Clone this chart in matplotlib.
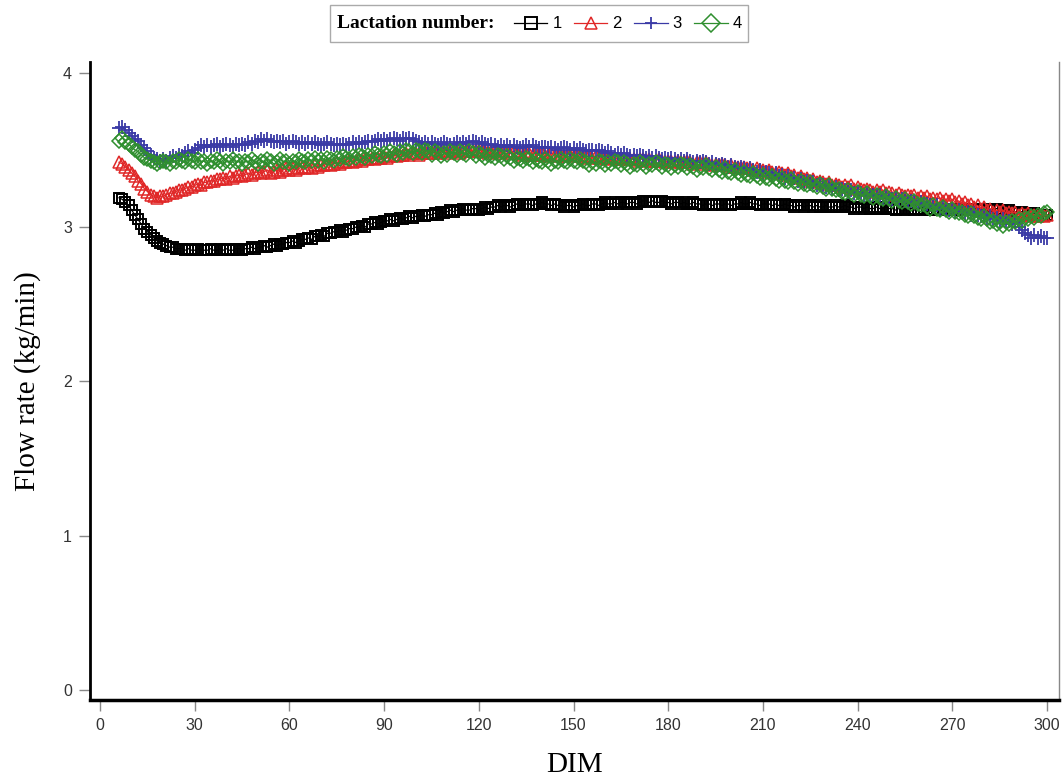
import matplotlib
matplotlib.use("Agg")
import matplotlib.pyplot as plt
from matplotlib.patches import Rectangle

# days in milk, one point per day
dim = list(range(6, 301))

lact1 = [
    3.19, 3.18, 3.16, 3.14, 3.11, 3.08, 3.05, 3.02, 2.99, 2.97,
    2.95, 2.93, 2.91, 2.90, 2.89, 2.88, 2.87, 2.87, 2.86, 2.86,
    2.86, 2.85, 2.86, 2.85, 2.85, 2.86, 2.85, 2.85, 2.85, 2.86,
    2.85, 2.85, 2.86, 2.85, 2.86, 2.85, 2.85, 2.86, 2.86, 2.85,
    2.86, 2.86, 2.87, 2.86, 2.87, 2.87, 2.88, 2.87, 2.88, 2.89,
    2.88, 2.89, 2.89, 2.90, 2.90, 2.91, 2.90, 2.91, 2.92, 2.92,
    2.93, 2.92, 2.94, 2.94, 2.95, 2.94, 2.96, 2.96, 2.97, 2.97,
    2.98, 2.97, 2.98, 2.99, 2.99, 3.00, 3.00, 3.01, 3.00, 3.02,
    3.02, 3.03, 3.02, 3.03, 3.04, 3.04, 3.05, 3.04, 3.05, 3.06,
    3.05, 3.06, 3.07, 3.06, 3.07, 3.07, 3.08, 3.07, 3.08, 3.08,
    3.09, 3.08, 3.10, 3.09, 3.10, 3.11, 3.10, 3.11, 3.11, 3.12,
    3.11, 3.11, 3.12, 3.12, 3.11, 3.12, 3.13, 3.12, 3.13, 3.13,
    3.14, 3.13, 3.14, 3.14, 3.13, 3.14, 3.15, 3.14, 3.14, 3.15,
    3.15, 3.14, 3.15, 3.15, 3.16, 3.15, 3.15, 3.14, 3.15, 3.14,
    3.14, 3.13, 3.14, 3.14, 3.13, 3.14, 3.14, 3.15, 3.14, 3.14,
    3.15, 3.15, 3.14, 3.15, 3.16, 3.15, 3.15, 3.16, 3.15, 3.16,
    3.16, 3.15, 3.16, 3.16, 3.15, 3.16, 3.17, 3.17, 3.16, 3.17,
    3.16, 3.16, 3.17, 3.16, 3.16, 3.15, 3.16, 3.16, 3.15, 3.16,
    3.15, 3.15, 3.16, 3.15, 3.15, 3.14, 3.15, 3.15, 3.14, 3.15,
    3.15, 3.14, 3.15, 3.15, 3.14, 3.15, 3.15, 3.16, 3.15, 3.15,
    3.16, 3.15, 3.15, 3.14, 3.15, 3.15, 3.15, 3.14, 3.15, 3.14,
    3.14, 3.15, 3.14, 3.14, 3.13, 3.14, 3.14, 3.13, 3.14, 3.14,
    3.13, 3.14, 3.13, 3.13, 3.14, 3.13, 3.13, 3.14, 3.13, 3.13,
    3.14, 3.13, 3.13, 3.12, 3.13, 3.13, 3.12, 3.13, 3.12, 3.12,
    3.13, 3.12, 3.12, 3.13, 3.12, 3.12, 3.11, 3.12, 3.12, 3.11,
    3.12, 3.12, 3.11, 3.12, 3.12, 3.11, 3.12, 3.11, 3.12, 3.12,
    3.11, 3.12, 3.12, 3.11, 3.12, 3.12, 3.11, 3.12, 3.11, 3.11,
    3.12, 3.11, 3.12, 3.11, 3.12, 3.12, 3.11, 3.12, 3.12, 3.11,
    3.11, 3.10, 3.11, 3.10, 3.10, 3.09, 3.10, 3.09, 3.09, 3.08,
    3.09, 3.08, 3.08, 3.07, 3.08,
]

lact2 = [
    3.42, 3.41, 3.39, 3.37, 3.35, 3.33, 3.30, 3.28, 3.25, 3.23,
    3.21, 3.20, 3.19, 3.20, 3.20, 3.21, 3.22, 3.22, 3.23, 3.24,
    3.24, 3.25, 3.26, 3.26, 3.27, 3.28, 3.27, 3.29, 3.29, 3.30,
    3.30, 3.31, 3.31, 3.32, 3.31, 3.33, 3.32, 3.33, 3.34, 3.33,
    3.34, 3.35, 3.34, 3.35, 3.36, 3.35, 3.36, 3.37, 3.35, 3.36,
    3.37, 3.36, 3.37, 3.38, 3.37, 3.38, 3.37, 3.38, 3.39, 3.38,
    3.39, 3.38, 3.40, 3.39, 3.40, 3.40, 3.41, 3.40, 3.41, 3.42,
    3.41, 3.42, 3.42, 3.43, 3.42, 3.43, 3.44, 3.43, 3.44, 3.44,
    3.45, 3.44, 3.45, 3.45, 3.46, 3.45, 3.46, 3.47, 3.46, 3.47,
    3.47, 3.48, 3.47, 3.48, 3.48, 3.47, 3.48, 3.49, 3.48, 3.48,
    3.49, 3.48, 3.49, 3.49, 3.48, 3.49, 3.50, 3.49, 3.48, 3.49,
    3.50, 3.49, 3.49, 3.50, 3.49, 3.50, 3.49, 3.48, 3.49, 3.50,
    3.49, 3.48, 3.49, 3.49, 3.48, 3.49, 3.48, 3.49, 3.47, 3.48,
    3.48, 3.47, 3.48, 3.47, 3.48, 3.46, 3.47, 3.48, 3.47, 3.46,
    3.47, 3.46, 3.47, 3.47, 3.46, 3.47, 3.46, 3.45, 3.46, 3.46,
    3.45, 3.46, 3.45, 3.46, 3.45, 3.44, 3.45, 3.45, 3.44, 3.45,
    3.44, 3.45, 3.44, 3.44, 3.43, 3.44, 3.44, 3.43, 3.44, 3.43,
    3.43, 3.44, 3.43, 3.42, 3.43, 3.43, 3.42, 3.43, 3.42, 3.42,
    3.43, 3.42, 3.41, 3.42, 3.42, 3.41, 3.42, 3.41, 3.40, 3.41,
    3.40, 3.41, 3.40, 3.39, 3.40, 3.39, 3.39, 3.38, 3.39, 3.38,
    3.38, 3.37, 3.38, 3.37, 3.37, 3.36, 3.37, 3.36, 3.35, 3.36,
    3.35, 3.34, 3.35, 3.33, 3.34, 3.32, 3.33, 3.31, 3.32, 3.30,
    3.31, 3.29, 3.30, 3.29, 3.28, 3.29, 3.27, 3.28, 3.27, 3.26,
    3.27, 3.26, 3.27, 3.25, 3.26, 3.25, 3.24, 3.25, 3.24, 3.23,
    3.24, 3.23, 3.24, 3.22, 3.23, 3.22, 3.21, 3.22, 3.21, 3.20,
    3.21, 3.20, 3.21, 3.19, 3.20, 3.19, 3.20, 3.18, 3.19, 3.18,
    3.19, 3.17, 3.18, 3.17, 3.18, 3.16, 3.17, 3.15, 3.16, 3.14,
    3.15, 3.13, 3.14, 3.12, 3.13, 3.11, 3.12, 3.10, 3.11, 3.10,
    3.11, 3.09, 3.10, 3.09, 3.10, 3.08, 3.09, 3.08, 3.09, 3.07,
    3.08, 3.07, 3.08, 3.07, 3.08,
]

lact3 = [
    3.64, 3.65, 3.63, 3.61, 3.59, 3.57, 3.56, 3.53, 3.51, 3.49,
    3.47, 3.45, 3.44, 3.43, 3.44, 3.43, 3.45, 3.46, 3.45, 3.47,
    3.46, 3.48, 3.49, 3.48, 3.50, 3.51, 3.53, 3.52, 3.53, 3.52,
    3.53, 3.54, 3.52, 3.53, 3.54, 3.53, 3.52, 3.54, 3.53, 3.54,
    3.53, 3.55, 3.54, 3.56, 3.55, 3.57, 3.56, 3.57, 3.56, 3.55,
    3.56, 3.55, 3.56, 3.54, 3.55, 3.56, 3.55, 3.54, 3.55, 3.54,
    3.55, 3.54, 3.55, 3.54, 3.53, 3.54, 3.55, 3.54, 3.53, 3.54,
    3.53, 3.54, 3.53, 3.54, 3.55, 3.54, 3.55, 3.54, 3.55, 3.56,
    3.55, 3.56, 3.57, 3.56, 3.57, 3.56, 3.57, 3.58, 3.57, 3.56,
    3.58, 3.57, 3.58, 3.57, 3.56, 3.55, 3.54, 3.55, 3.54, 3.55,
    3.54, 3.53, 3.54, 3.55, 3.54, 3.53, 3.54, 3.55, 3.54, 3.55,
    3.54, 3.55, 3.56, 3.55, 3.54, 3.55, 3.54, 3.53, 3.54, 3.53,
    3.52, 3.53, 3.52, 3.53, 3.52, 3.53, 3.52, 3.51, 3.52, 3.53,
    3.52, 3.53, 3.52, 3.51, 3.52, 3.52, 3.51, 3.52, 3.51, 3.50,
    3.51, 3.52, 3.51, 3.50, 3.51, 3.50, 3.51, 3.50, 3.49, 3.50,
    3.50, 3.49, 3.50, 3.49, 3.48, 3.49, 3.48, 3.47, 3.48, 3.47,
    3.48, 3.47, 3.46, 3.47, 3.46, 3.47, 3.46, 3.45, 3.46, 3.45,
    3.46, 3.45, 3.44, 3.45, 3.44, 3.45, 3.44, 3.43, 3.44, 3.43,
    3.44, 3.43, 3.42, 3.43, 3.42, 3.43, 3.42, 3.41, 3.42, 3.41,
    3.40, 3.41, 3.40, 3.39, 3.40, 3.39, 3.38, 3.39, 3.38, 3.37,
    3.38, 3.37, 3.36, 3.37, 3.35, 3.36, 3.35, 3.34, 3.35, 3.33,
    3.34, 3.32, 3.33, 3.31, 3.32, 3.30, 3.31, 3.29, 3.30, 3.28,
    3.29, 3.27, 3.28, 3.27, 3.26, 3.27, 3.25, 3.26, 3.24, 3.25,
    3.24, 3.23, 3.24, 3.22, 3.23, 3.22, 3.21, 3.22, 3.20, 3.21,
    3.20, 3.21, 3.19, 3.20, 3.19, 3.18, 3.19, 3.17, 3.18, 3.17,
    3.16, 3.17, 3.16, 3.15, 3.16, 3.14, 3.15, 3.14, 3.13, 3.14,
    3.12, 3.13, 3.12, 3.11, 3.12, 3.10, 3.11, 3.10, 3.09, 3.10,
    3.08, 3.09, 3.08, 3.07, 3.08, 3.06, 3.07, 3.05, 3.06, 3.04,
    3.05, 3.03, 3.04, 3.02, 3.03, 3.00, 2.98, 2.96, 2.95, 2.93,
    2.95, 2.93, 2.94, 2.93, 2.93,
]

lact4 = [
    3.56, 3.58, 3.55, 3.54, 3.52, 3.50, 3.49, 3.47, 3.45, 3.44,
    3.43, 3.42, 3.41, 3.42, 3.43, 3.42, 3.41, 3.43, 3.42, 3.44,
    3.43, 3.42, 3.44, 3.43, 3.42, 3.44, 3.42, 3.43, 3.41, 3.43,
    3.42, 3.44, 3.43, 3.41, 3.43, 3.42, 3.44, 3.42, 3.43, 3.41,
    3.43, 3.42, 3.44, 3.42, 3.41, 3.43, 3.42, 3.44, 3.43, 3.41,
    3.42, 3.44, 3.42, 3.43, 3.41, 3.43, 3.42, 3.44, 3.43, 3.42,
    3.44, 3.43, 3.45, 3.43, 3.44, 3.42, 3.45, 3.44, 3.43, 3.45,
    3.44, 3.46, 3.45, 3.44, 3.46, 3.45, 3.47, 3.46, 3.45, 3.47,
    3.46, 3.48, 3.47, 3.46, 3.48, 3.47, 3.49, 3.48, 3.47, 3.49,
    3.48, 3.50, 3.49, 3.48, 3.50, 3.49, 3.48, 3.50, 3.49, 3.47,
    3.49, 3.48, 3.46, 3.48, 3.47, 3.49, 3.48, 3.47, 3.49, 3.48,
    3.47, 3.49, 3.48, 3.46, 3.48, 3.47, 3.45, 3.47, 3.46, 3.45,
    3.47, 3.46, 3.44, 3.46, 3.45, 3.43, 3.45, 3.44, 3.43, 3.45,
    3.44, 3.42, 3.44, 3.43, 3.42, 3.44, 3.43, 3.41, 3.43, 3.42,
    3.44, 3.43, 3.42, 3.44, 3.43, 3.42, 3.44, 3.43, 3.42, 3.40,
    3.42, 3.41, 3.43, 3.42, 3.40, 3.42, 3.41, 3.43, 3.42, 3.40,
    3.42, 3.41, 3.39, 3.41, 3.40, 3.42, 3.41, 3.39, 3.41, 3.40,
    3.42, 3.41, 3.39, 3.41, 3.40, 3.38, 3.40, 3.39, 3.41, 3.40,
    3.38, 3.40, 3.39, 3.37, 3.39, 3.38, 3.40, 3.38, 3.37, 3.39,
    3.37, 3.36, 3.38, 3.36, 3.35, 3.37, 3.35, 3.34, 3.36, 3.34,
    3.33, 3.35, 3.33, 3.32, 3.34, 3.32, 3.31, 3.33, 3.31, 3.30,
    3.32, 3.30, 3.29, 3.31, 3.29, 3.28, 3.30, 3.28, 3.27, 3.29,
    3.27, 3.26, 3.28, 3.26, 3.25, 3.27, 3.25, 3.24, 3.25, 3.23,
    3.22, 3.24, 3.22, 3.21, 3.23, 3.21, 3.20, 3.22, 3.20, 3.19,
    3.21, 3.19, 3.18, 3.20, 3.18, 3.17, 3.19, 3.17, 3.16, 3.18,
    3.16, 3.15, 3.17, 3.15, 3.14, 3.15, 3.13, 3.12, 3.14, 3.12,
    3.11, 3.13, 3.11, 3.10, 3.12, 3.10, 3.09, 3.10, 3.08, 3.07,
    3.09, 3.07, 3.06, 3.05, 3.07, 3.05, 3.03, 3.04, 3.02, 3.03,
    3.01, 3.03, 3.02, 3.04, 3.03, 3.05, 3.04, 3.06, 3.05, 3.07,
    3.06, 3.08, 3.07, 3.09, 3.10,
]

labels = ["1", "2", "3", "4"]
xticks = list(range(0, 301, 30))
yticks = [0, 1, 2, 3, 4]

series = [
    (lact1, "#000000", "s", 7.0, 1.4),
    (lact2, "#e02828", "^", 8.0, 1.1),
    (lact3, "#3a3aa6", "+", 10.5, 1.3),
    (lact4, "#2f8f2f", "D", 7.0, 1.1),
]

fig = plt.figure(figsize=(10.62, 7.80), dpi=100)
ax = fig.add_axes([90 / 1062, 80 / 780, 969 / 1062, 638 / 780])

handles = []
for (vals, color, marker, ms, mew), lab in zip(series, labels):
    h, = ax.plot(dim, vals, color=color, lw=0.9, marker=marker, ms=ms,
                 mfc="none", mec=color, mew=mew, label=lab)
    handles.append(h)

ax.set_xlim(-3.2, 303.8)
ax.set_ylim(-0.065, 4.07)
ax.set_xticks(xticks)
ax.set_yticks(yticks)

ax.spines["top"].set_visible(False)
ax.spines["left"].set_linewidth(2.0)
ax.spines["bottom"].set_linewidth(2.5)
ax.spines["right"].set_linewidth(1.0)
ax.spines["right"].set_color("#888888")

sans = ["Liberation Sans", "DejaVu Sans"]
ax.tick_params(axis="both", direction="out", length=8, width=1,
               color="#888888", labelcolor="#333333", labelsize=11.5, pad=5)
for t in ax.get_xticklabels() + ax.get_yticklabels():
    t.set_family(sans)

serif = ["Liberation Serif", "DejaVu Serif"]
ax.set_xlabel("DIM", family=serif, fontsize=21, labelpad=14)
ax.set_ylabel("Flow rate (kg/min)", family=serif, fontsize=21, labelpad=16)

# legend box at top centre
fig.patches.append(Rectangle((330 / 1062, 1 - 42 / 780), 418 / 1062, 37 / 780,
                             transform=fig.transFigure, fill=False,
                             edgecolor="#aaaaaa", lw=1.0))
fig.text(337 / 1062, 1 - 24 / 780, "Lactation number:", family=serif,
         fontweight="bold", fontsize=14, va="center", ha="left")
leg = fig.legend(handles=handles, labels=labels, ncol=4, frameon=False,
                 loc="center left", bbox_to_anchor=(514 / 1062, 1 - 24 / 780),
                 prop={"family": sans, "size": 12}, handlelength=2.0,
                 handletextpad=0.3, columnspacing=0.75, borderpad=0,
                 borderaxespad=0)
for lh in leg.legend_handles:
    lh.set_markersize(9)

fig.savefig("out.png", dpi=100)
